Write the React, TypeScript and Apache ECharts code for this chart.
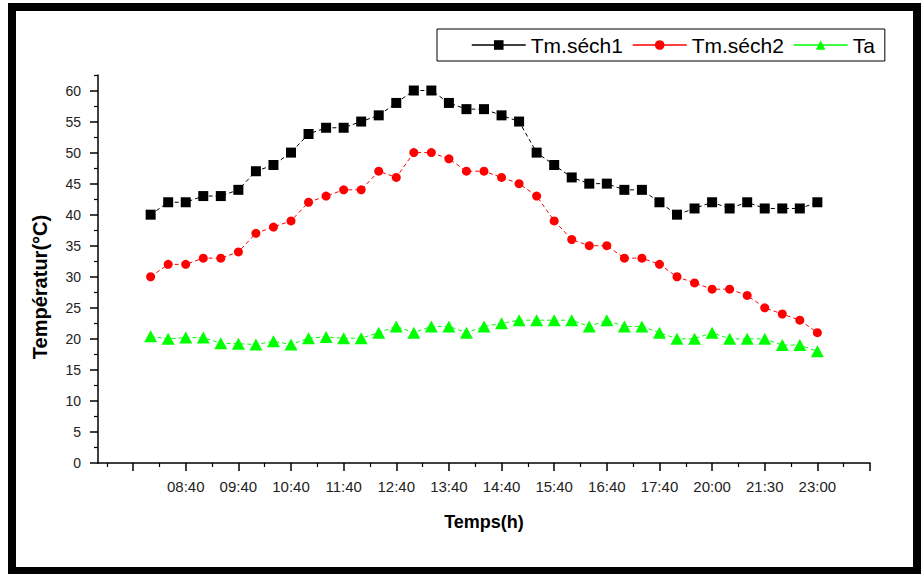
import React, { useEffect, useRef } from "react";
import * as echarts from "echarts";

// x positions: one reading every step (index 0..38); labels at every third reading from index 2
const tickLabels = ["08:40", "09:40", "10:40", "11:40", "12:40", "13:40", "14:40", "15:40", "16:40", "17:40", "20:00", "21:30", "23:00"];
const seriesNames = ["Tm.séch1", "Tm.séch2", "Ta"];
const tmSech1 = [40, 42, 42, 43, 43, 44, 47, 48, 50, 53, 54, 54, 55, 56, 58, 60, 60, 58, 57, 57, 56, 55, 50, 48, 46, 45, 45, 44, 44, 42, 40, 41, 42, 41, 42, 41, 41, 41, 42];
const tmSech2 = [30, 32, 32, 33, 33, 34, 37, 38, 39, 42, 43, 44, 44, 47, 46, 50, 50, 49, 47, 47, 46, 45, 43, 39, 36, 35, 35, 33, 33, 32, 30, 29, 28, 28, 27, 25, 24, 23, 21];
const ta = [20.4, 20, 20.2, 20.2, 19.3, 19.2, 19.1, 19.6, 19.1, 20.1, 20.3, 20.1, 20.1, 21, 22, 21, 22, 22, 21, 22, 22.5, 23, 23, 23, 23, 22, 23, 22, 22, 21, 20, 20, 21, 20, 20, 20, 19, 19, 18];
const yTicks = [0, 5, 10, 15, 20, 25, 30, 35, 40, 45, 50, 55, 60];

export default function App() {
  const ref = useRef<HTMLDivElement>(null);
  useEffect(() => {
    if (!ref.current) return;
    const chart = echarts.init(ref.current, null, { renderer: "svg" });
    const font = "Liberation Sans, Arial, sans-serif";
    const toPairs = (arr: number[]) => arr.map((v, i) => [i, v]);
    const majorX: number[] = [];
    for (let v = -1; v <= 41; v += 3) majorX.push(v);
    const minorX: number[] = [];
    for (let v = -2.5; v <= 41; v += 3) minorX.push(v);
    const labelX = tickLabels.map((_, k) => 2 + 3 * k);
    const minorY: number[] = [];
    for (let v = 2.5; v <= 62.5; v += 5) minorY.push(v);

    const lineStyleFor = (color: string) => ({ color, width: 1, type: [4, 3] as any });

    chart.setOption({
      animation: false,
      backgroundColor: "#fff",
      grid: { left: 98, right: 51, top: 75, bottom: 111, containLabel: false },
      legend: {
        left: 437,
        top: 29,
        orient: "horizontal",
        borderColor: "#000",
        borderWidth: 1,
        padding: [4, 10, 4, 34],
        itemWidth: 54,
        itemHeight: 12,
        itemGap: 9,
        lineStyle: { type: "solid", width: 1.5 },
        textStyle: { fontSize: 21, fontFamily: font, color: "#000", lineHeight: 24 },
        data: seriesNames,
      },
      xAxis: [
        {
          type: "value",
          min: -3,
          max: 41,
          axisLine: { show: true, onZero: false, lineStyle: { color: "#000", width: 1.5 } },
          axisTick: { show: true, length: 8, lineStyle: { color: "#000", width: 1.5 }, customValues: majorX },
          axisLabel: {
            show: true,
            customValues: labelX,
            margin: 16,
            fontSize: 15,
            fontFamily: font,
            color: "#222",
            formatter: (v: number) => {
              const k = Math.round((v - 2) / 3);
              return tickLabels[k] ?? "";
            },
          },
          splitLine: { show: false },
        },
        {
          type: "value",
          position: "bottom",
          min: -3,
          max: 41,
          axisLine: { show: false, onZero: false },
          axisTick: { show: true, length: 4, lineStyle: { color: "#000", width: 1.2 }, customValues: minorX },
          axisLabel: { show: false },
          splitLine: { show: false },
        },
      ],
      yAxis: [
        {
          type: "value",
          min: 0,
          max: 62.5,
          axisLine: { show: true, onZero: false, lineStyle: { color: "#000", width: 1.5 } },
          axisTick: { show: true, length: 8, lineStyle: { color: "#000", width: 1.5 }, customValues: yTicks },
          axisLabel: { show: true, customValues: yTicks, margin: 17, fontSize: 14, fontFamily: font, color: "#222" },
          splitLine: { show: false },
        },
        {
          type: "value",
          position: "left",
          min: 0,
          max: 62.5,
          axisLine: { show: false, onZero: false },
          axisTick: { show: true, length: 4, lineStyle: { color: "#000", width: 1.2 }, customValues: minorY },
          axisLabel: { show: false },
          splitLine: { show: false },
        },
      ],
      series: [
        {
          name: seriesNames[0],
          type: "line",
          data: toPairs(tmSech1),
          symbol: "rect",
          symbolSize: 10,
          itemStyle: { color: "#000" },
          lineStyle: lineStyleFor("#000"),
        },
        {
          name: seriesNames[1],
          type: "line",
          data: toPairs(tmSech2),
          symbol: "circle",
          symbolSize: 9,
          itemStyle: { color: "#ff0000" },
          lineStyle: lineStyleFor("#ff0000"),
        },
        {
          name: seriesNames[2],
          type: "line",
          data: toPairs(ta),
          symbol: "triangle",
          symbolSize: [13, 12],
          itemStyle: { color: "#00ff00" },
          lineStyle: lineStyleFor("#00ff00"),
        },
      ],
      graphic: [
        {
          type: "rect",
          shape: { x: 12, y: 7, width: 905, height: 564 },
          style: { fill: "none", stroke: "#000", lineWidth: 8 },
          silent: true,
        },
        {
          type: "text",
          x: 40,
          y: 287,
          rotation: Math.PI / 2,
          style: {
            text: "Températur(°C)",
            fontSize: 20,
            fontWeight: "bold",
            fontFamily: font,
            fill: "#000",
            align: "center",
            verticalAlign: "middle",
          },
        },
        {
          type: "text",
          x: 484,
          y: 522,
          style: {
            text: "Temps(h)",
            fontSize: 18,
            fontWeight: "bold",
            fontFamily: font,
            fill: "#000",
            align: "center",
            verticalAlign: "middle",
          },
        },
      ],
    });
    return () => chart.dispose();
  }, []);
  return <div ref={ref} style={{ position: "fixed", left: 0, top: 0, width: 921, height: 574 }} />;
}
